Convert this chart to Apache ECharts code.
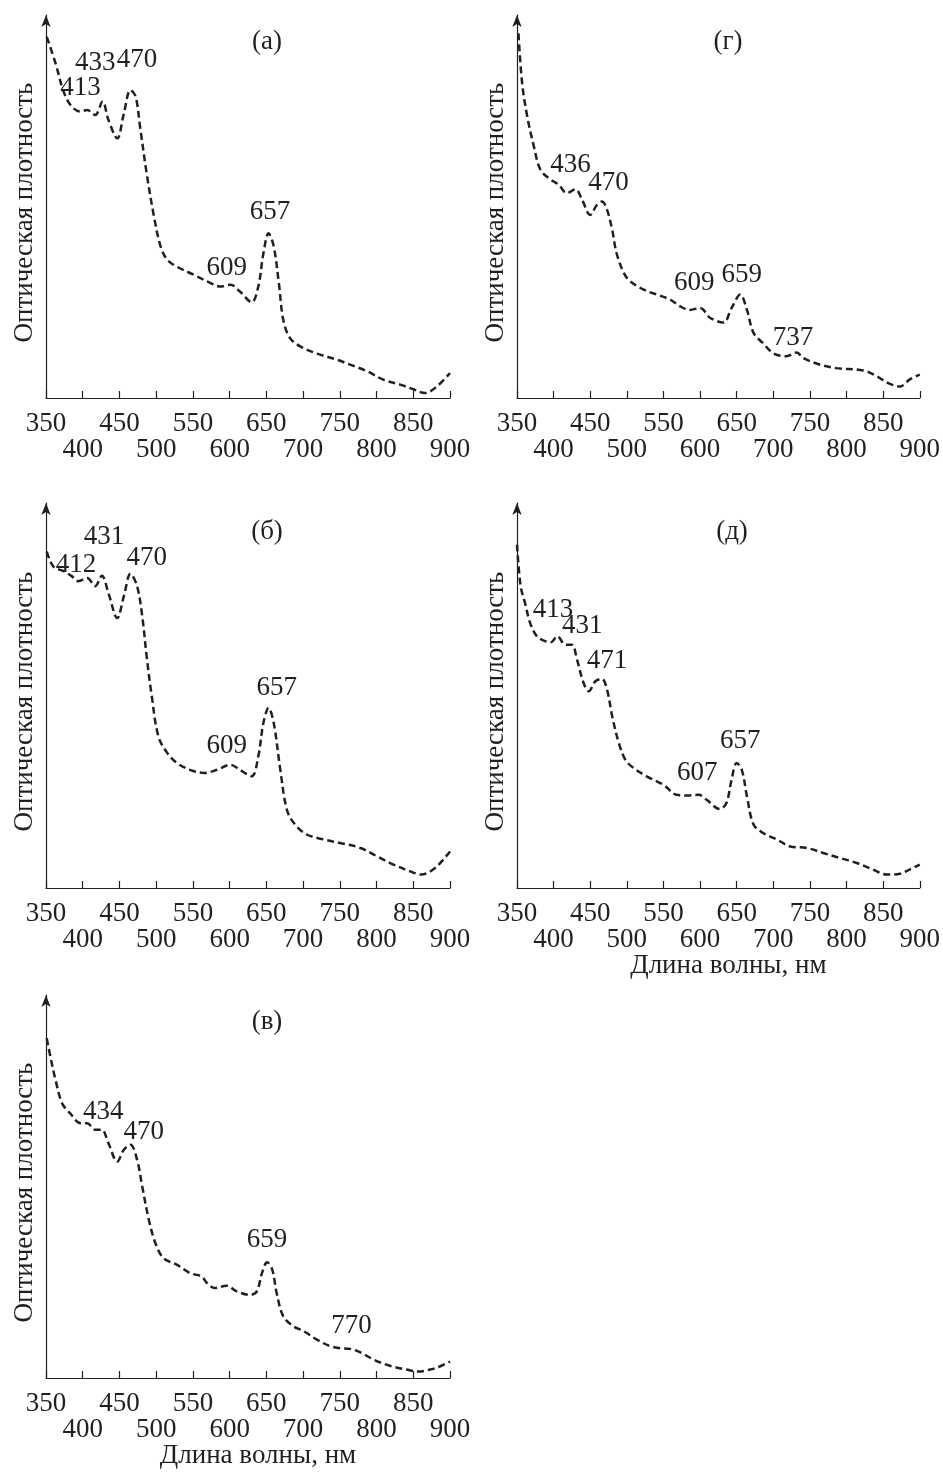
<!DOCTYPE html>
<html>
<head>
<meta charset="utf-8">
<script src="https://cdn.jsdelivr.net/npm/echarts@6/dist/echarts.min.js"></script>
<style>
  html, body { margin: 0; padding: 0; background: #fff; }
  #main { width: 943px; height: 1472px; }
</style>
</head>
<body>
<div id="main"></div>
<script>
// длины волн (нм) и оптическая плотность (отн. ед.)
var nmA = [351,363,374,385,397,406,417,427,435,447,456,465,472,478,487,497,506,515,528,551,574,587,601,614,630,639,646,653,660,667,673,682,696,719,746,764,787,809,832,850,866,882,900];
var odA = [0.943,0.874,0.80,0.761,0.748,0.752,0.739,0.774,0.726,0.678,0.743,0.804,0.787,0.709,0.587,0.474,0.396,0.361,0.343,0.322,0.30,0.291,0.296,0.278,0.25,0.291,0.378,0.43,0.396,0.30,0.204,0.157,0.135,0.116,0.10,0.087,0.07,0.048,0.035,0.023,0.013,0.03,0.065];

var nmB = [351,360,374,385,394,406,417,426,435,447,456,465,474,481,487,494,503,515,528,546,565,583,601,614,630,639,646,653,660,669,678,689,705,728,750,778,801,823,846,861,877,891,900];
var odB = [0.874,0.835,0.823,0.81,0.797,0.805,0.784,0.811,0.766,0.701,0.758,0.816,0.784,0.706,0.602,0.498,0.394,0.351,0.325,0.307,0.299,0.307,0.32,0.307,0.29,0.342,0.429,0.468,0.429,0.307,0.203,0.165,0.139,0.126,0.117,0.104,0.082,0.061,0.043,0.035,0.048,0.074,0.095];

var nmV = [351,356,363,372,383,397,406,417,426,435,447,456,465,474,481,490,499,510,528,546,562,569,580,596,610,628,637,644,651,658,664,673,687,701,719,737,750,764,778,796,818,841,857,873,886,900];
var odV = [0.887,0.839,0.778,0.717,0.691,0.665,0.665,0.648,0.648,0.613,0.565,0.596,0.609,0.57,0.5,0.413,0.352,0.313,0.296,0.274,0.265,0.248,0.235,0.241,0.226,0.217,0.226,0.274,0.302,0.283,0.222,0.161,0.135,0.122,0.10,0.083,0.078,0.076,0.067,0.048,0.032,0.022,0.017,0.022,0.03,0.043];

var nmG = [352,357,364,373,382,396,407,418,430,439,450,459,466,473,480,486,496,505,523,541,559,573,586,600,614,632,643,655,664,673,686,700,718,732,741,764,786,823,841,857,873,886,900];
var odG = [0.952,0.822,0.735,0.657,0.596,0.57,0.557,0.535,0.545,0.517,0.478,0.504,0.513,0.491,0.439,0.378,0.326,0.304,0.283,0.27,0.257,0.239,0.23,0.235,0.209,0.197,0.235,0.27,0.23,0.17,0.143,0.117,0.109,0.119,0.104,0.087,0.078,0.072,0.057,0.039,0.030,0.048,0.061];

var nmD = [350,355,361,368,377,386,396,405,416,425,432,441,448,457,466,473,480,489,498,509,527,550,568,582,598,609,627,636,643,650,657,664,673,686,705,723,746,768,791,814,836,855,873,886,900];
var odD = [0.892,0.784,0.74,0.688,0.654,0.643,0.638,0.654,0.632,0.632,0.593,0.532,0.511,0.537,0.543,0.515,0.446,0.377,0.333,0.312,0.29,0.268,0.242,0.24,0.242,0.229,0.205,0.221,0.281,0.325,0.307,0.238,0.165,0.143,0.126,0.108,0.104,0.091,0.078,0.065,0.048,0.035,0.037,0.048,0.061];

// подписи максимумов: [нм, уровень, текст]
var peaksA = [[397,0.809,'413'],[417,0.874,'433'],[474,0.883,'470'],[596,0.339,'609'],[655,0.487,'657']];
var peaksB = [[391,0.84,'412'],[429,0.913,'431'],[487,0.857,'470'],[596,0.368,'609'],[664,0.519,'657']];
var peaksV = [[428,0.696,'434'],[483,0.643,'470'],[651,0.361,'659'],[766,0.135,'770']];
var peaksG = [[423,0.609,'436'],[475,0.561,'470'],[592,0.30,'609'],[657,0.322,'659'],[727,0.157,'737']];
var peaksD = [[399,0.723,'413'],[439,0.68,'431'],[473,0.589,'471'],[596,0.299,'607'],[655,0.381,'657']];

var xTicks = [350,400,450,500,550,600,650,700,750,800,850,900];
var panelNames = ['(а)','(г)','(б)','(д)','(в)'];
var yName = 'Оптическая плотность';
var xName = 'Длина волны, нм';

var FONT = '"Liberation Serif", "Times New Roman", serif';
var INK = '#231f20';
var FS = 27;

var myChart = echarts.init(document.getElementById('main'));

var panels = [
  { nm: nmA, od: odA, pk: peaksA, grid: {left: 46, top: 15, width: 404, height: 383}, title: [267, 42], xTitle: false },
  { nm: nmG, od: odG, pk: peaksG, grid: {left: 517, top: 15, width: 403, height: 383}, title: [728, 42], xTitle: false },
  { nm: nmB, od: odB, pk: peaksB, grid: {left: 46, top: 503, width: 404, height: 385}, title: [267, 532], xTitle: false },
  { nm: nmD, od: odD, pk: peaksD, grid: {left: 517, top: 503, width: 403, height: 385}, title: [732, 532], xTitle: true },
  { nm: nmV, od: odV, pk: peaksV, grid: {left: 46, top: 995, width: 404, height: 383}, title: [267, 1022], xTitle: true }
];

var option = {
  animation: false,
  backgroundColor: '#fff',
  textStyle: { fontFamily: FONT, color: INK },
  grid: [], xAxis: [], yAxis: [], series: [], graphic: []
};

// верхний ряд подписей: 350, 450, ... ; нижний: 400, 500, ...
function rowFormatter(row) {
  return function (v) {
    var k = Math.round((v - xTicks[0]) / 50);
    return k % 2 === row ? String(v) : '';
  };
}

panels.forEach(function (p, i) {
  option.grid.push(p.grid);
  option.xAxis.push({
    type: 'value', gridIndex: i, min: xTicks[0], max: xTicks[xTicks.length - 1], interval: 50,
    position: 'bottom', offset: 0,
    axisLine: { lineStyle: { color: INK, width: 1.2 } },
    axisTick: { inside: true, length: 7, lineStyle: { color: INK, width: 1.2 } },
    splitLine: { show: false },
    axisLabel: {
      color: INK, fontFamily: FONT, fontSize: FS, margin: 12,
      showMinLabel: true, showMaxLabel: true,
      formatter: rowFormatter(0)
    },
    name: p.xTitle ? xName : '',
    nameLocation: 'middle', nameGap: 64,
    nameTextStyle: { color: INK, fontFamily: FONT, fontSize: FS, padding: [0, 0, 0, 20] }
  });
  option.xAxis.push({
    type: 'value', gridIndex: i, min: xTicks[0], max: xTicks[xTicks.length - 1], interval: 50,
    position: 'bottom', offset: 0,
    axisLine: { show: false }, axisTick: { show: false }, splitLine: { show: false },
    axisLabel: {
      color: INK, fontFamily: FONT, fontSize: FS, margin: 38,
      showMinLabel: true, showMaxLabel: true,
      formatter: rowFormatter(1)
    }
  });
  option.yAxis.push({
    type: 'value', gridIndex: i, min: 0, max: 1,
    axisLine: { show: true, symbol: ['none', 'arrow'], symbolSize: [7, 12], lineStyle: { color: INK, width: 1.2 } },
    axisTick: { show: false }, axisLabel: { show: false }, splitLine: { show: false },
    name: yName, nameLocation: 'middle', nameRotate: 90, nameGap: 8,
    nameTextStyle: { color: INK, fontFamily: FONT, fontSize: FS, padding: [0, 12, 0, 0] }
  });
  option.series.push({
    type: 'line', xAxisIndex: 2 * i, yAxisIndex: i,
    data: p.nm.map(function (x, j) { return [x, p.od[j]]; }),
    smooth: 0.35, symbol: 'none',
    lineStyle: { color: INK, width: 2.5, type: [7, 4] }
  });
  option.series.push({
    type: 'scatter', xAxisIndex: 2 * i, yAxisIndex: i,
    data: p.pk, symbolSize: 0, silent: true,
    itemStyle: { color: INK, opacity: 1 },
    label: {
      show: true, position: 'inside', color: INK, opacity: 1, fontFamily: FONT, fontSize: FS,
      textBorderWidth: 0,
      formatter: function (d) { return d.value[2]; }
    }
  });
  option.graphic.push({
    type: 'text', x: p.title[0], y: p.title[1],
    style: { text: panelNames[i], font: FS + 'px ' + FONT, fill: INK, textAlign: 'center', textVerticalAlign: 'middle' }
  });
});

myChart.setOption(option);
</script>
</body>
</html>
